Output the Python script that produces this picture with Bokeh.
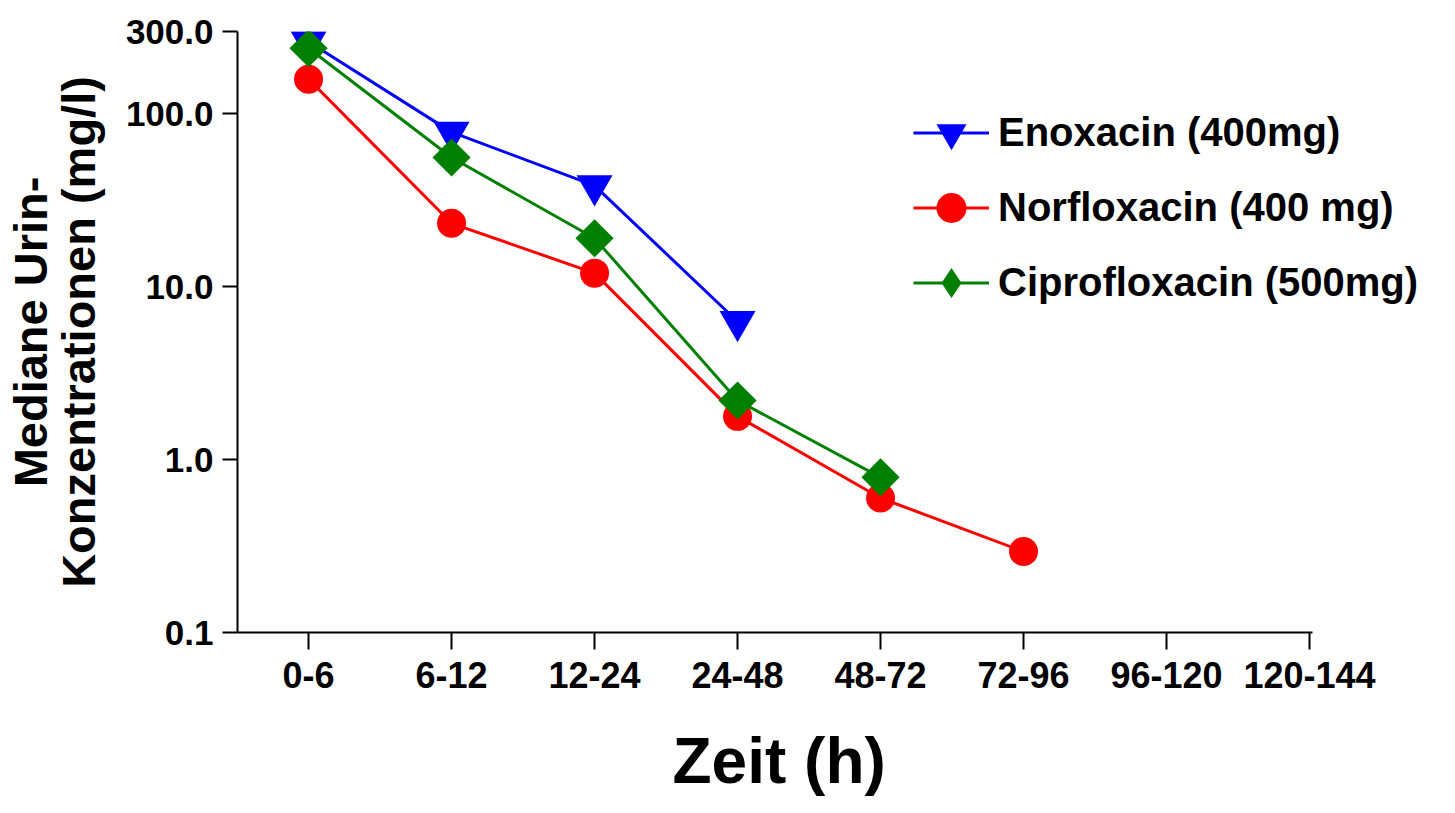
from bokeh.plotting import figure
from bokeh.models import Range1d, FixedTicker, Legend, LegendItem, Title
from bokeh.embed import file_html
from bokeh.resources import INLINE
import math

categories = ["0-6", "6-12", "12-24", "24-48", "48-72", "72-96", "96-120", "120-144"]
y_ticks = [0.1, 1.0, 10.0, 100.0, 300.0]
y_tick_labels = ["0.1", "1.0", "10.0", "100.0", "300.0"]

enoxacin = [262.0, 78.5, 38.5, 6.3]
norfloxacin = [159.0, 23.3, 12.0, 1.78, 0.60, 0.294]
ciprofloxacin = [240.0, 56.0, 19.1, 2.2, 0.79]

FONT = "Liberation Sans"

p = figure(
    output_backend="svg", toolbar_location=None,
    frame_width=1213, frame_height=601,
    min_border_left=237, min_border_top=31, min_border_right=0, min_border_bottom=178,
    x_range=Range1d(-0.497, 7.986), y_range=Range1d(0.1, 300), y_axis_type="log",
)
p.outline_line_color = None
p.xgrid.visible = False
p.ygrid.visible = False
p.background_fill_color = "white"

xs = list(range(len(categories)))

r_e_line = p.line(xs[:len(enoxacin)], enoxacin, line_color="blue", line_width=3)
r_e = p.scatter(xs[:len(enoxacin)], enoxacin, marker="inverted_triangle", size=36,
                fill_color="blue", line_color="blue", line_width=0)
r_n_line = p.line(xs[:len(norfloxacin)], norfloxacin, line_color="red", line_width=3)
r_n = p.scatter(xs[:len(norfloxacin)], norfloxacin, marker="circle", size=29,
                fill_color="red", line_color="red", line_width=0)
r_c_line = p.line(xs[:len(ciprofloxacin)], ciprofloxacin, line_color="green", line_width=3)
r_c = p.scatter(xs[:len(ciprofloxacin)], ciprofloxacin, marker="square", angle=math.pi / 4, size=27,
                fill_color="green", line_color="green", line_width=0)
# legend-only diamond (a single NaN point, so nothing is drawn in the plot)
r_c_leg = p.scatter([float("nan")], [float("nan")], marker="diamond",
                    fill_color="green", line_color="green", line_width=0)

# axes
xa = p.xaxis[0]
xa.bounds = (-0.497, 7.02)
xa.ticker = FixedTicker(ticks=xs)
xa.major_label_overrides = {i: c for i, c in enumerate(categories)}
xa.minor_tick_line_color = None
xa.major_tick_in = 0
xa.major_tick_out = 17
xa.major_tick_line_width = 2
xa.axis_line_width = 2
xa.axis_line_color = "black"
xa.major_tick_line_color = "black"
xa.major_label_text_color = "black"
xa.major_label_text_font = FONT
xa.major_label_text_font_style = "bold"
xa.major_label_text_font_size = "36px"
xa.major_label_standoff = 12

xtitle = Title(text="Zeit (h)", align="left", offset=435, standoff=65,
               text_color="black", text_font=FONT, text_font_style="bold",
               text_font_size="64px")
p.add_layout(xtitle, "below")

ya = p.yaxis[0]
ya.ticker = FixedTicker(ticks=y_ticks, minor_ticks=[])
ya.major_label_overrides = {t: l for t, l in zip(y_ticks, y_tick_labels)}
ya.minor_tick_line_color = None
ya.major_tick_in = 0
ya.major_tick_out = 15
ya.major_tick_line_width = 2
ya.axis_line_width = 2
ya.axis_line_color = "black"
ya.major_tick_line_color = "black"
ya.major_label_text_color = "black"
ya.major_label_text_font = FONT
ya.major_label_text_font_style = "bold"
ya.major_label_text_font_size = "35px"
ya.major_label_standoff = 9
ya.axis_label = "Mediane Urin-\nKonzentrationen (mg/l)"
ya.axis_label_text_color = "black"
ya.axis_label_text_font = FONT
ya.axis_label_text_font_style = "bold"
ya.axis_label_text_font_size = "47px"
ya.axis_label_text_line_height = 0.9
ya.axis_label_standoff = 18

legend = Legend(
    items=[
        LegendItem(label="Enoxacin (400mg)", renderers=[r_e_line, r_e]),
        LegendItem(label="Norfloxacin (400 mg)", renderers=[r_n_line, r_n]),
        LegendItem(label="Ciprofloxacin (500mg)", renderers=[r_c_line, r_c_leg]),
    ],
    location=(676, 312),
    glyph_width=76, glyph_height=75, spacing=0,
    padding=0, margin=0, label_standoff=9,
    label_text_color="black",
    label_text_font=FONT, label_text_font_style="bold", label_text_font_size="40px",
    border_line_color=None, background_fill_alpha=0,
)
p.add_layout(legend, "center")

open("out.html", "w").write(file_html(p, INLINE))
